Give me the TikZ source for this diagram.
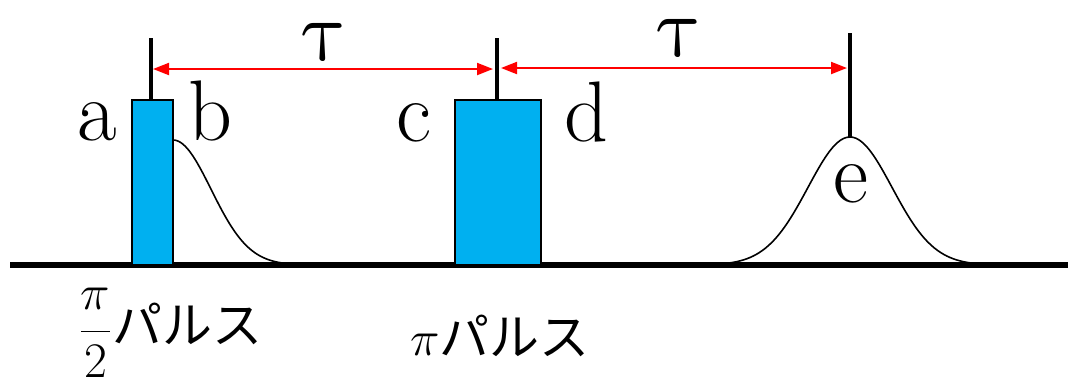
\documentclass[tikz,border=0pt]{standalone}
\usepackage{fontspec}
\newfontfamily\jpfont{Noto Sans CJK JP}
\newfontfamily\greekfont{Latin Modern Math}
\usetikzlibrary{arrows.meta}
\definecolor{pulsecyan}{RGB}{0,176,240}
\tikzset{
    pulse/.style={draw=black, line width=0.8pt, fill=pulsecyan},
    stem/.style={line width=1.6pt},
    delay/.style={red, line width=1pt, {Triangle[length=8pt,width=6pt]}-{Triangle[length=8pt,width=6pt]}},
    letter/.style={anchor=base, font=\rmfamily\fontsize{43}{43}\selectfont, inner sep=0pt},
    taulabel/.style={anchor=base, font=\greekfont\fontsize{43}{43}\selectfont, inner sep=0pt},
    pulsename/.style={anchor=west, font=\fontsize{25}{25}\selectfont\jpfont, inner sep=0pt}
}
\begin{document}
\begin{tikzpicture}[x=0.5pt, y=-0.5pt]
    \useasboundingbox (0,0) rectangle (1068,387);

    % 基線
    \draw[line width=2.6pt] (10,265) -- (1068,265);

    % π/2 パルス と π パルス
    \draw[pulse] (132,100) rectangle (173,265);
    \draw[pulse] (455,100) rectangle (541,265);

    % 縦線
    \draw[stem] (151,100) -- (151,38) coordinate (topA);
    \draw[stem] (497,100) -- (497,38) coordinate (topC);
    \draw[stem] (850,137) -- (850,33) coordinate (topE);

    % 自由誘導減衰
    \draw[line width=0.8pt, domain=173:292, samples=60, smooth, variable=\x]
        plot ({\x}, {265 - 125*exp(-0.5*((\x-173)/38)^2)});

    % エコー
    \draw[line width=0.8pt, domain=728:975, samples=80, smooth, variable=\x]
        plot ({\x}, {265 - 128*exp(-0.5*((\x-850)/42)^2)});

    % 待ち時間 τ
    \coordinate (armA) at (153,69);
    \coordinate (armC1) at (493,69);
    \coordinate (armC2) at (501,68);
    \coordinate (armE) at (847,68);
    \draw[delay] (armA) -- (armC1);
    \draw[delay] (armC2) -- (armE);
    \node[taulabel] (tau1) at (325,60) {τ};
    \node[taulabel] (tau2) at (680,56) {τ};

    % 記号
    \node[letter] (la) at (97,140) {a};
    \node[letter] (lb) at (210,140) {b};
    \node[letter] (lc) at (414,141) {c};
    \node[letter] (ld) at (586,141) {d};
    \node[letter] (le) at (851,202) {e};

    % パルス名
    \node[pulsename] (half) at (78,333) {$\displaystyle\frac{\pi}{2}$パルス};
    \node[pulsename] (full) at (410,336) {$\pi$パルス};
\end{tikzpicture}
\end{document}
